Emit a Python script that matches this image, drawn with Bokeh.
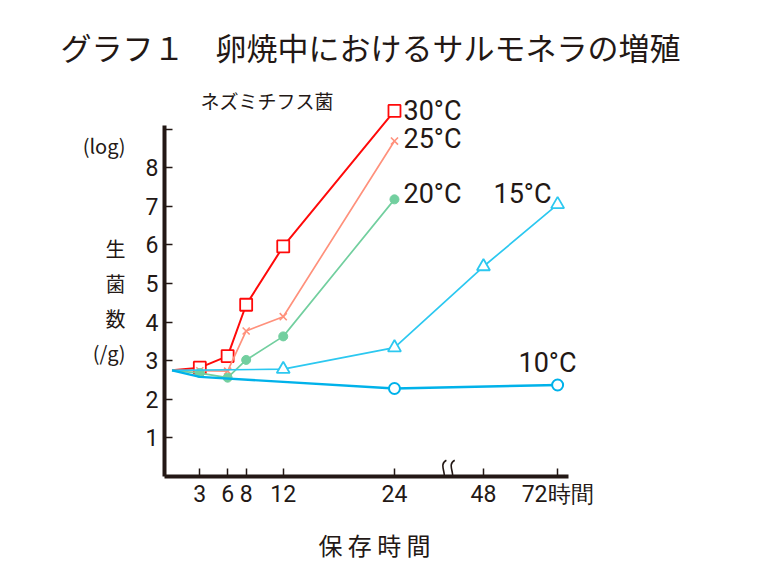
from bokeh.plotting import figure
from bokeh.models import FixedTicker, Range1d, Title
from bokeh.embed import file_html
from bokeh.resources import INLINE
from bokeh.core.properties import value

# ---- data (hours of storage, log CFU/g) ----
hours_30 = [0, 3, 6, 8, 12, 24]
cfu_30 = [2.75, 2.82, 3.12, 4.45, 5.96, 9.47]
hours_25 = [0, 3, 6, 8, 12, 24]
cfu_25 = [2.75, 2.74, 2.73, 3.77, 4.14, 8.69]
hours_20 = [0, 3, 6, 8, 12, 24]
cfu_20 = [2.75, 2.68, 2.56, 3.02, 3.63, 7.18]
hours_15 = [0, 12, 24, 48, 72]
cfu_15 = [2.75, 2.78, 3.34, 5.44, 7.05]
hours_10 = [0, 3, 24, 72]
cfu_10 = [2.75, 2.58, 2.28, 2.37]
marked_10 = [24, 72]

series_names = ["30°C", "25°C", "20°C", "15°C", "10°C"]
x_ticks = [3, 6, 8, 12, 24, 48, 72]
x_tick_labels = ["3", "6", "8", "12", "24", "48", "72時間"]
y_ticks = [1, 2, 3, 4, 5, 6, 7, 8, 9]
y_tick_labels = ["1", "2", "3", "4", "5", "6", "7", "8", ""]

title_text = "グラフ１　卵焼中におけるサルモネラの増殖"
subtitle = "ネズミチフス菌"
y_title = "(log)\n\n\n生\n菌\n数\n(/g)\n\n"
x_title = "保 存 時 間"


def xpos(h):
    """Broken time axis: linear up to 24 h, compressed after the break."""
    return h if h <= 24 else 33.6 + (h - 48) / 3.0


def xs(hours):
    return [xpos(h) for h in hours]


RED = "#FF0A0A"
SALMON = "#FF917C"
GREEN = "#72CF9F"
CYAN = "#2CC8F0"
BLUE = "#00B2EA"
INK = "#231815"
JP = "Noto Sans CJK JP"
NUM = "Roboto"

p = figure(frame_width=420, frame_height=386,
           x_range=Range1d(-0.81, 44.5), y_range=Range1d(0, 10),
           output_backend="svg", toolbar_location=None,
           min_border_left=164, min_border_right=170,
           min_border_top=90, min_border_bottom=80)
p.outline_line_color = None
p.xgrid.visible = False
p.ygrid.visible = False
p.background_fill_color = "white"
p.border_fill_color = "white"

p.title = Title(text=title_text, align="left", offset=-104, standoff=43,
                text_font=JP, text_font_size="31px", text_font_style="normal",
                text_color=INK)

# axes
for ax in (p.xaxis[0], p.yaxis[0]):
    ax.axis_line_width = 4
    ax.axis_line_color = INK
    ax.major_tick_line_color = INK
    ax.major_tick_line_width = 1.5
    ax.major_tick_in = 8
    ax.major_tick_out = 0
    ax.minor_tick_line_color = None
    ax.major_label_text_font = NUM
    ax.major_label_text_font_size = "23px"
    ax.major_label_text_color = INK

p.xaxis.ticker = FixedTicker(ticks=xs(x_ticks))
p.xaxis.major_label_overrides = {xpos(t): lab for t, lab in zip(x_ticks, x_tick_labels)}
p.xaxis.bounds = (-0.81, 42.8)
p.xaxis.major_label_standoff = 4
p.xaxis.axis_label = x_title
p.xaxis.axis_label_text_font = JP
p.xaxis.axis_label_text_font_size = "24px"
p.xaxis.axis_label_text_font_style = "normal"
p.xaxis.axis_label_text_color = INK
p.xaxis.axis_label_standoff = 16

p.yaxis.ticker = FixedTicker(ticks=y_ticks)
p.yaxis.major_label_overrides = {t: lab for t, lab in zip(y_ticks, y_tick_labels)}
p.yaxis.bounds = (0, 9.1)
p.yaxis.major_label_standoff = 6
p.yaxis.axis_label = y_title
p.yaxis.axis_label_orientation = "horizontal"
p.yaxis.axis_label_text_font = JP
p.yaxis.axis_label_text_font_size = "20px"
p.yaxis.axis_label_text_font_style = "normal"
p.yaxis.axis_label_text_color = INK
p.yaxis.axis_label_text_line_height = 1.19
p.yaxis.axis_label_standoff = 17

# series
p.line(xs(hours_30), cfu_30, line_color=RED, line_width=2)
p.scatter(xs(hours_30[1:]), cfu_30[1:], marker="square", size=12,
          fill_color="white", line_color=RED, line_width=1.8)

p.line(xs(hours_25), cfu_25, line_color=SALMON, line_width=1.7)
p.scatter(xs(hours_25[1:]), cfu_25[1:], marker="x", size=10,
          line_color=SALMON, line_width=1.6)

p.line(xs(hours_20), cfu_20, line_color=GREEN, line_width=1.7)
p.scatter(xs(hours_20[1:]), cfu_20[1:], marker="circle", size=9,
          fill_color=GREEN, line_color=GREEN)

p.line(xs(hours_15), cfu_15, line_color=CYAN, line_width=1.7)
p.scatter(xs(hours_15[1:]), cfu_15[1:], marker="triangle", size=13,
          fill_color="white", line_color=CYAN, line_width=1.8)

p.line(xs(hours_10), cfu_10, line_color=BLUE, line_width=2.4)
m10 = [(h, v) for h, v in zip(hours_10, cfu_10) if h in marked_10]
p.scatter(xs([h for h, _ in m10]), [v for _, v in m10], marker="circle", size=11,
          fill_color="white", line_color=BLUE, line_width=2)

# series labels
lab_pos = [(24.97, 9.47), (24.97, 8.74), (24.97, 7.32), (34.68, 7.32), (37.38, 2.94)]
p.text(x=[a for a, _ in lab_pos], y=[b for _, b in lab_pos], text=series_names,
       text_font=value(NUM), text_font_size="27px", text_color=INK,
       text_align="left", text_baseline="middle")

# organism name
p.text(x=[3.07], y=[9.73], text=[subtitle], text_font=value(JP),
       text_font_size="19px", text_color=INK, text_align="left",
       text_baseline="middle")

# axis break mark
for cx in (29.3, 30.2):
    p.bezier(x0=[cx + 0.3], y0=[0.42], x1=[cx - 0.3], y1=[-0.12],
             cx0=[cx - 0.7], cy0=[0.3], cx1=[cx + 0.7], cy1=[0.0],
             line_color=INK, line_width=1.6)

open("out.html", "w").write(file_html(p, INLINE))
